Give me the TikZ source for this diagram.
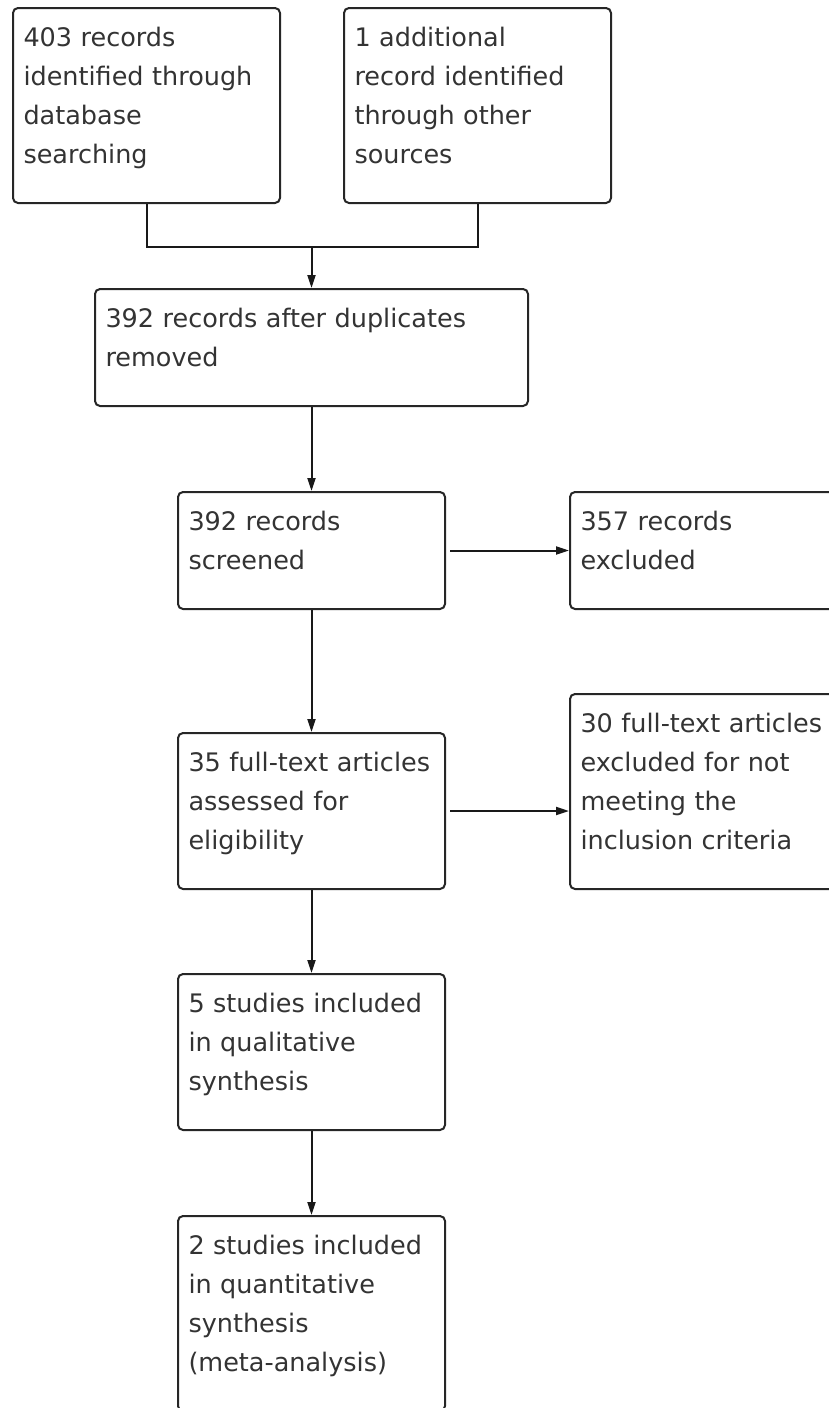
\documentclass[tikz,border=0pt]{standalone}
\usepackage{fontspec,tikz}
\usetikzlibrary{arrows.meta}
\newfontfamily\boxfont{DejaVu Sans}

\begin{document}
\begin{tikzpicture}[x=1pt,y=-1pt,
  box_node/.style={draw=black!85,line width=2pt,rounded corners=5pt,anchor=north west,
    text width=246pt,inner xsep=10.5pt,inner ysep=0pt,align=left,text=black!80,
    font={\boxfont\fontsize{25.5}{39}\selectfont},text height=38pt,
    execute at end node={\rule[-40pt]{0pt}{40pt}}},
  arr/.style={-{Triangle[length=13pt,width=8pt]},line width=2pt,draw=black!90}]

    \useasboundingbox (0,0) rectangle (828,1408);

    \node[box_node] (1) at (12,7)   {403 records\\identified through\\database\\searching};
    \node[box_node] (2) at (343,7)  {1 additional\\record identified\\through other\\sources};
    \node[box_node,text width=412pt] (3) at (94,288) {392 records after duplicates\\removed};
    \node[box_node] (4) at (177,491) {392 records\\screened};
    \node[box_node] (5) at (569,491) {357 records\\excluded};
    \node[box_node] (6) at (177,732) {35 full-text articles\\assessed for\\eligibility};
    \node[box_node] (7) at (569,693) {30 full-text articles\\excluded for not\\meeting the\\inclusion criteria};
    \node[box_node] (8) at (177,973) {5 studies included\\in qualitative\\synthesis};
    \node[box_node] (9) at (177,1215) {2 studies included\\in quantitative\\synthesis\\(meta-analysis)};

    \path (3.north) ++(0,-41) coordinate (j);
    \draw[line width=2pt,draw=black!90] (1) |- (j) -| (2);
    \draw[arr] (j) -- (3);
    \draw[arr] (3) -- (4);
    \draw[arr,shorten <=4pt] (4) -- (5);
    \draw[arr] (4) -- (6);
    \draw[arr,shorten <=4pt] (6.east) -- (6.east -| 7.west);
    \draw[arr] (6) -- (8);
    \draw[arr] (8) -- (9);
\end{tikzpicture}
\end{document}
